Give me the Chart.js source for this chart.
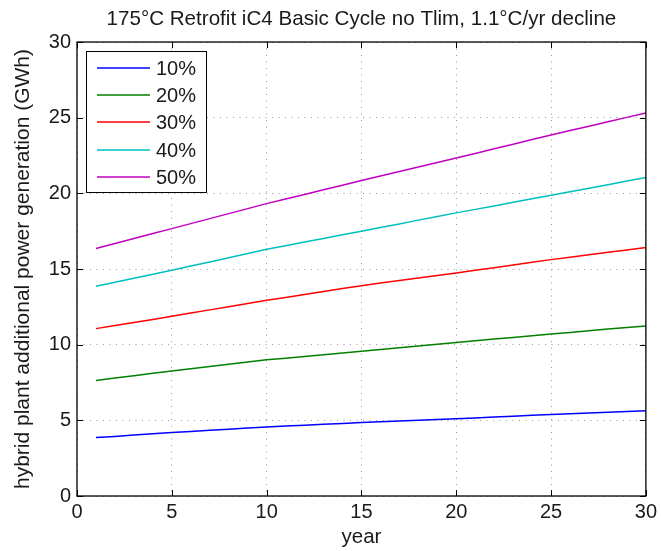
<!DOCTYPE html>
<html lang="en">
<head>
  <meta charset="UTF-8" />
  <title>175°C Retrofit iC4 Basic Cycle</title>
  <script src="https://cdn.jsdelivr.net/npm/chart.js"></script>
  <style>
    html, body { margin: 0; padding: 0; background: #fff; }
    #wrap { width: 661px; height: 551px; }
  </style>
</head>
<body>
  <div id="wrap"><canvas id="chart" width="661" height="551"></canvas></div>
  <script>
    // years 1..30
    const years = [1,2,3,4,5,6,7,8,9,10,11,12,13,14,15,16,17,18,19,20,21,22,23,24,25,26,27,28,29,30];
    const seriesLabels = ["10%", "20%", "30%", "40%", "50%"];
    const seriesColors = ["#0000ff", "#008000", "#ff0000", "#00bfbf", "#bf00bf"];

    const gen10 = [3.86,3.94,4.03,4.11,4.19, 4.26,4.34,4.41,4.49,4.56, 4.62,4.68,4.74,4.79,4.85,
                   4.90,4.95,5.01,5.06,5.11, 5.16,5.22,5.27,5.33,5.38, 5.43,5.48,5.54,5.59,5.64];
    const gen20 = [7.64,7.80,7.95,8.11,8.26, 8.41,8.56,8.71,8.85,9.00, 9.11,9.22,9.34,9.45,9.56,
                   9.68,9.80,9.92,10.03,10.15, 10.26,10.37,10.48,10.59,10.70, 10.81,10.92,11.03,11.13,11.24];
    const gen30 = [11.06,11.26,11.47,11.67,11.88, 12.09,12.30,12.51,12.72,12.93, 13.12,13.32,13.51,13.71,13.90,
                   14.07,14.24,14.40,14.57,14.74, 14.92,15.09,15.27,15.44,15.62, 15.78,15.94,16.10,16.26,16.42];
    const gen40 = [13.86,14.13,14.39,14.66,14.92, 15.20,15.47,15.75,16.02,16.30, 16.54,16.78,17.02,17.26,17.50,
                   17.74,17.98,18.23,18.47,18.71, 18.94,19.17,19.41,19.64,19.87, 20.10,20.34,20.57,20.81,21.04];
    const gen50 = [16.35,16.68,17.01,17.34,17.67, 18.00,18.33,18.66,18.99,19.32, 19.63,19.93,20.24,20.54,20.85,
                   21.15,21.45,21.74,22.04,22.34, 22.64,22.95,23.25,23.56,23.86, 24.15,24.44,24.73,25.02,25.31];
    const allSeries = [gen10, gen20, gen30, gen40, gen50];

    const FONT = "'Liberation Sans', Arial, Helvetica, sans-serif";
    const TXT = "#1a1a1a";

    // box, inward tick marks and legend in MATLAB style
    const matlabAxes = {
      id: "matlabAxes",
      beforeDatasetsDraw(chart) {
        const { ctx, chartArea: a, scales } = chart;
        ctx.save();
        ctx.strokeStyle = "#000";
        ctx.lineWidth = 1;
        ctx.beginPath();
        scales.x.ticks.forEach(t => {
          const px = Math.round(scales.x.getPixelForValue(t.value)) + 0.5;
          ctx.moveTo(px, a.bottom); ctx.lineTo(px, a.bottom - 6);
          ctx.moveTo(px, a.top); ctx.lineTo(px, a.top + 6);
        });
        scales.y.ticks.forEach(t => {
          const py = Math.round(scales.y.getPixelForValue(t.value)) + 0.5;
          ctx.moveTo(a.left, py); ctx.lineTo(a.left + 6, py);
          ctx.moveTo(a.right, py); ctx.lineTo(a.right - 6, py);
        });
        ctx.stroke();
        ctx.restore();
      },
      afterDatasetsDraw(chart) {
        const { ctx, chartArea: a } = chart;
        ctx.save();
        ctx.strokeStyle = "#000";
        ctx.lineWidth = 1.3;
        ctx.strokeRect(a.left, a.top, a.right - a.left, a.bottom - a.top);

        // legend
        const bx = a.left + 9, by = a.top + 9, bw = 120, bh = 141;
        ctx.fillStyle = "#fff";
        ctx.fillRect(bx, by, bw, bh);
        ctx.lineWidth = 1;
        ctx.strokeRect(bx + 0.5, by + 0.5, bw, bh);
        ctx.font = "20px " + FONT;
        ctx.textBaseline = "middle";
        chart.data.datasets.forEach((ds, i) => {
          const y = Math.round(by + 16.5 + i * 27.4);
          ctx.strokeStyle = ds.borderColor;
          ctx.lineWidth = 1.5;
          ctx.beginPath();
          ctx.moveTo(bx + 11, y); ctx.lineTo(bx + 64, y);
          ctx.stroke();
          ctx.fillStyle = TXT;
          ctx.fillText(ds.label, bx + 70, y + 1);
        });
        ctx.restore();
      }
    };

    new Chart(document.getElementById("chart"), {
      type: "line",
      data: {
        labels: years,
        datasets: seriesLabels.map((lab, i) => ({
          label: lab,
          data: years.map((yr, j) => ({ x: yr, y: allSeries[i][j] })),
          borderColor: seriesColors[i],
          backgroundColor: seriesColors[i],
          borderWidth: 1.5,
          pointRadius: 0,
          tension: 0,
          fill: false
        }))
      },
      options: {
        responsive: false,
        animation: false,
        layout: { padding: { left: 0, right: 10, top: 0, bottom: 0 } },
        plugins: {
          legend: { display: false },
          tooltip: { enabled: false },
          title: {
            display: true,
            fullSize: false,
            text: "175°C Retrofit iC4 Basic Cycle no Tlim, 1.1°C/yr decline",
            color: TXT,
            font: { family: FONT, size: 20.6, weight: "normal", lineHeight: 1.2 },
            padding: { top: 7, bottom: 10.3 }
          }
        },
        scales: {
          x: {
            type: "linear",
            min: 0, max: 30,
            afterFit(scale) { scale.height = 55; },
            ticks: { stepSize: 5, color: TXT, padding: 4, maxRotation: 0,
                     font: { family: FONT, size: 20 } },
            grid: { color: "#9a9a9a", lineWidth: 1, drawTicks: false },
            border: { display: false, dash: [1, 5.5] },
            title: { display: true, text: "year", color: TXT,
                     font: { family: FONT, size: 20.5 }, padding: { top: 0, bottom: 1 } }
          },
          y: {
            min: 0, max: 30,
            afterFit(scale) { scale.width = 77; },
            ticks: { stepSize: 5, color: TXT, padding: 6,
                     font: { family: FONT, size: 20 } },
            grid: { color: "#9a9a9a", lineWidth: 1, drawTicks: false },
            border: { display: false, dash: [1, 5.5] },
            title: { display: true, text: "hybrid plant additional power generation (GWh)", color: TXT,
                     font: { family: FONT, size: 21 }, padding: { top: 11, bottom: 0 } }
          }
        }
      },
      plugins: [matlabAxes]
    });
  </script>
</body>
</html>
